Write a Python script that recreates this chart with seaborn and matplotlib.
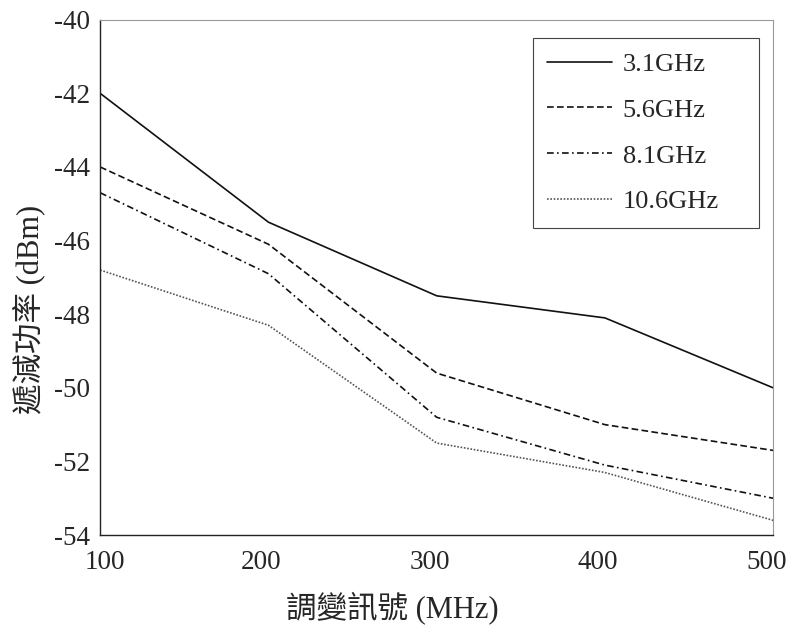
import pandas as pd
import matplotlib.pyplot as plt
import matplotlib.transforms as mtransforms
import seaborn as sns

freq_mhz = [100, 200, 300, 400, 500]
series_names = ["3.1GHz", "5.6GHz", "8.1GHz", "10.6GHz"]
p_31 = [-42.0, -45.5, -47.5, -48.1, -50.0]
p_56 = [-44.0, -46.1, -49.6, -51.0, -51.7]
p_81 = [-44.7, -46.9, -50.8, -52.1, -53.0]
p_106 = [-46.8, -48.3, -51.5, -52.3, -53.6]

rows = []
for name, vals in zip(series_names, [p_31, p_56, p_81, p_106]):
    for f, v in zip(freq_mhz, vals):
        rows.append({"freq": f, "power": v, "band": name})
df = pd.DataFrame(rows)

sns.set_style("white")
plt.rcParams["font.family"] = ["Liberation Serif", "Noto Sans CJK TC"]
plt.rcParams["axes.unicode_minus"] = False

fig = plt.figure(figsize=(7.89, 6.37), dpi=100)
ax = fig.add_axes([0.127, 0.16, 0.853, 0.809])

colors = {"3.1GHz": "#111111", "5.6GHz": "#111111", "8.1GHz": "#111111", "10.6GHz": "#555555"}
dashes = {"3.1GHz": "", "5.6GHz": (4, 2), "8.1GHz": (4, 2, 1, 2), "10.6GHz": (1, 1)}
sns.lineplot(data=df, x="freq", y="power", hue="band", style="band",
             palette=colors, dashes=dashes, linewidth=1.2, ax=ax)

ax.set_xlim(100, 500)
ax.set_ylim(-54, -40)
ax.set_xticks(freq_mhz)
ax.set_yticks(range(-54, -39, 2))
ax.tick_params(direction="in", length=4, labelsize=19.5, color="#444444")
ax.tick_params(axis="x", pad=11)
ax.tick_params(axis="y", pad=7)

# x tick labels sit a little off their ticks in the original
for i, tick in enumerate(ax.xaxis.get_major_ticks()):
    dx = 0.05 if i == 0 else -0.07
    shift = mtransforms.ScaledTranslation(dx, 0, fig.dpi_scale_trans)
    tick.label1.set_transform(tick.label1.get_transform() + shift)

ax.set_xlabel("調變訊號 (MHz)", fontsize=22)
ax.set_ylabel("遞減功率 (dBm)", fontsize=22)
ax.xaxis.set_label_coords(0.434, -0.142)
ax.xaxis.label.set_va("center")
ax.yaxis.set_label_coords(-0.104, 0.437)
ax.yaxis.label.set_va("center")

for side in ["left", "bottom"]:
    ax.spines[side].set_color("#222222")
    ax.spines[side].set_linewidth(1.0)
for side in ["top", "right"]:
    ax.spines[side].set_color("#999999")
    ax.spines[side].set_linewidth(0.8)

handles, labels = ax.get_legend_handles_labels()
leg = ax.legend(handles, labels, loc="upper left", bbox_to_anchor=(0.643, 0.5, 0.336, 0.465),
                mode="expand", fontsize=19, handlelength=2.45, handletextpad=0.4,
                labelspacing=0.85, borderpad=0.55, borderaxespad=0, fancybox=False,
                framealpha=1, edgecolor="#444444")
leg.get_frame().set_linewidth(0.8)

plt.savefig("out.png", dpi=100)
